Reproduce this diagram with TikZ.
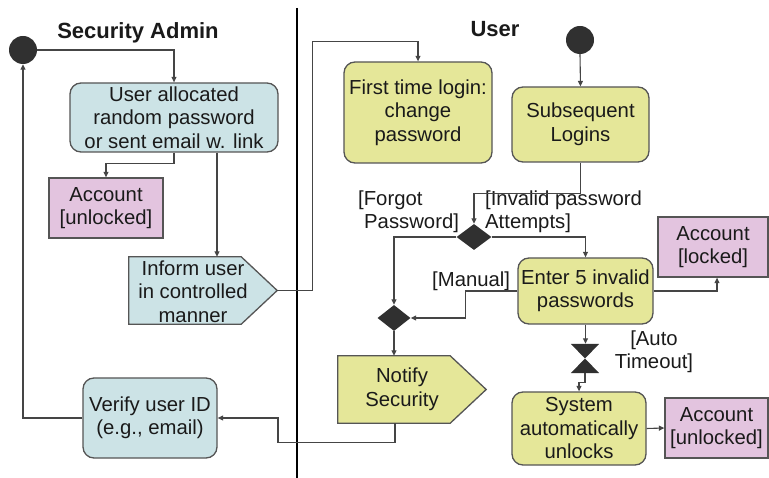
\documentclass[tikz,border=0pt]{standalone}
\usepackage{fontspec}
\setmainfont{Liberation Sans}
\usetikzlibrary{arrows.meta,shapes.geometric}

\definecolor{flowcol}{HTML}{454545}
\definecolor{edgecol}{HTML}{555555}
\definecolor{adminfill}{HTML}{CCE3E6}
\definecolor{userfill}{HTML}{E5E799}
\definecolor{statefill}{HTML}{E3C4DF}
\definecolor{markfill}{HTML}{303030}
\definecolor{txtcol}{HTML}{1A1A1A}

\begin{document}
\begin{tikzpicture}[x=1pt,y=-1pt,
  every node/.style={font=\fontsize{20.3}{23.5}\selectfont, text=txtcol, align=center, inner sep=0pt},
  title/.style={font=\fontsize{22}{26}\bfseries},
  box/.style={draw=edgecol, line width=1.3pt, minimum width=#1},
  actA/.style={box=#1, fill=adminfill, rounded corners=11pt},
  actU/.style={box=#1, fill=userfill, rounded corners=11pt},
  statebox/.style={box=#1, fill=statefill},
  sigbox/.style={draw=edgecol, line width=1.3pt},
  frame/.style={minimum width=#1},
  startdot/.style={circle, fill=markfill, minimum size=28pt},
  choice/.style={diamond, fill=markfill, minimum width=35pt, minimum height=26pt},
  guard/.style={align=left, anchor=west},
  flow/.style={draw=flowcol, line width=1.1pt, -{Triangle[length=5.5pt,width=5pt]}},
  lane/.style={draw=black, line width=1.8pt}
]
\useasboundingbox (0,0) rectangle (769,478);

% swimlane divider and titles
\draw[lane] (297,8) -- (297,478);
\node[title] (tadmin) at (138,33) {Security Admin};
\node[title] (tuser) at (495,29) {User};

% ---- Security Admin lane ----
\node[startdot] (startA) at (23,50) {};
\node[actA=208pt, minimum height=69pt] (alloc) at (174,117.5)
  {User allocated\\random password\\or sent email w. link};
\node[statebox=114pt, minimum height=60pt] (acctA) at (106,208)
  {Account\\{[unlocked]}};

% send-signal shape: frame node, outline, then its text
\node[frame=148pt, minimum height=67pt] (inform) at (203,290.5) {};
\draw[sigbox, fill=adminfill] (inform.north west) -- ([xshift=-36pt]inform.north east)
  -- (inform.east) -- ([xshift=-36pt]inform.south east) -- (inform.south west) -- cycle;
\node (informtxt) at ([xshift=-10pt,yshift=-1pt]inform.center) {Inform user\\in controlled\\manner};

\node[actA=134pt, minimum height=80pt] (verify) at (150,418)
  {Verify user ID\\(e.g., email)};

% ---- User lane ----
\node[startdot] (startU) at (580,40) {};
\node[actU=148pt, minimum height=101pt] (first) at (418,112.5)
  {First time login:\\change\\password};
\node[actU=137pt, minimum height=75pt] (subseq) at (580.5,124.5)
  {Subsequent\\Logins};
\node[choice] (d1) at (474,237) {};
\node[actU=135pt, minimum height=66pt] (enter) at (585.5,291)
  {Enter 5 invalid\\passwords};
\node[statebox=110pt, minimum height=60pt] (locked) at (713,247)
  {Account\\{[locked]}};
\node[choice, minimum width=33pt] (d2) at (394,318) {};

\node[frame=148pt, minimum height=67pt] (notify) at (412,389.5) {};
\draw[sigbox, fill=userfill] (notify.north west) -- ([xshift=-36pt]notify.north east)
  -- (notify.east) -- ([xshift=-36pt]notify.south east) -- (notify.south west) -- cycle;
\node (notifytxt) at ([xshift=-10pt]notify.center) {Notify\\Security};

% time event (hourglass)
\node[frame=28pt, minimum height=29pt] (timer) at (585,358.5) {};
\fill[markfill] (timer.north west) -- (timer.north east) -- (timer.south west)
  -- (timer.south east) -- cycle;

\node[actU=134pt, minimum height=73pt] (system) at (579,428.5)
  {System\\automatically\\unlocks};
\node[statebox=103pt, minimum height=60pt] (acctB) at (716.5,428)
  {Account\\{[unlocked]}};

% guard labels
\node[guard] (gforgot) at (358,212) {[Forgot\\\hspace*{6pt}Password]};
\node[guard] (ginvalid) at (485,212) {[Invalid password\\Attempts]};
\node[guard] (gmanual) at (432,281.5) {[Manual]};
\node (gauto) at (654,352) {[Auto\\Timeout]};

% ---- flows ----
\draw[flow] (startA.east) -| (alloc.north);
\draw[flow] (alloc.south) -- ++(0,11) -| (acctA.north);
\draw[flow] ([xshift=43pt]alloc.south) -- ([xshift=43pt]alloc.south |- inform.north);
\draw[flow] (inform.east) -- ++(35,0) |- ([yshift=20pt]first.north) -- (first.north);
\draw[flow] (startU.south) -- (subseq.north);
\draw[flow] (subseq.south) -- ++(0,31) -| (d1.north);
\draw[flow] (d1.west) -| (d2.north);
\draw[flow] (d1.east) -| (enter.north);
\draw[flow] (enter.west) -- ++(-52,0) |- (d2.east);
\draw[flow] (enter.east) -| ([xshift=4pt]locked.south);
\draw[flow] (d2.south) -- (d2.south |- notify.north);
\draw[flow] ([xshift=1pt]d2.south |- notify.south) -- ++(0,19) -- ++(-117,0) |- (verify.east);
\draw[flow] (verify.west) -| (startA.south);
\draw[flow] (enter.south) -- (enter.south |- timer.north);
\draw[flow] (timer.south) -- ++(0,9) -| (system.north);
\draw[flow] (system.east) -- (acctB.west);
\end{tikzpicture}
\end{document}
